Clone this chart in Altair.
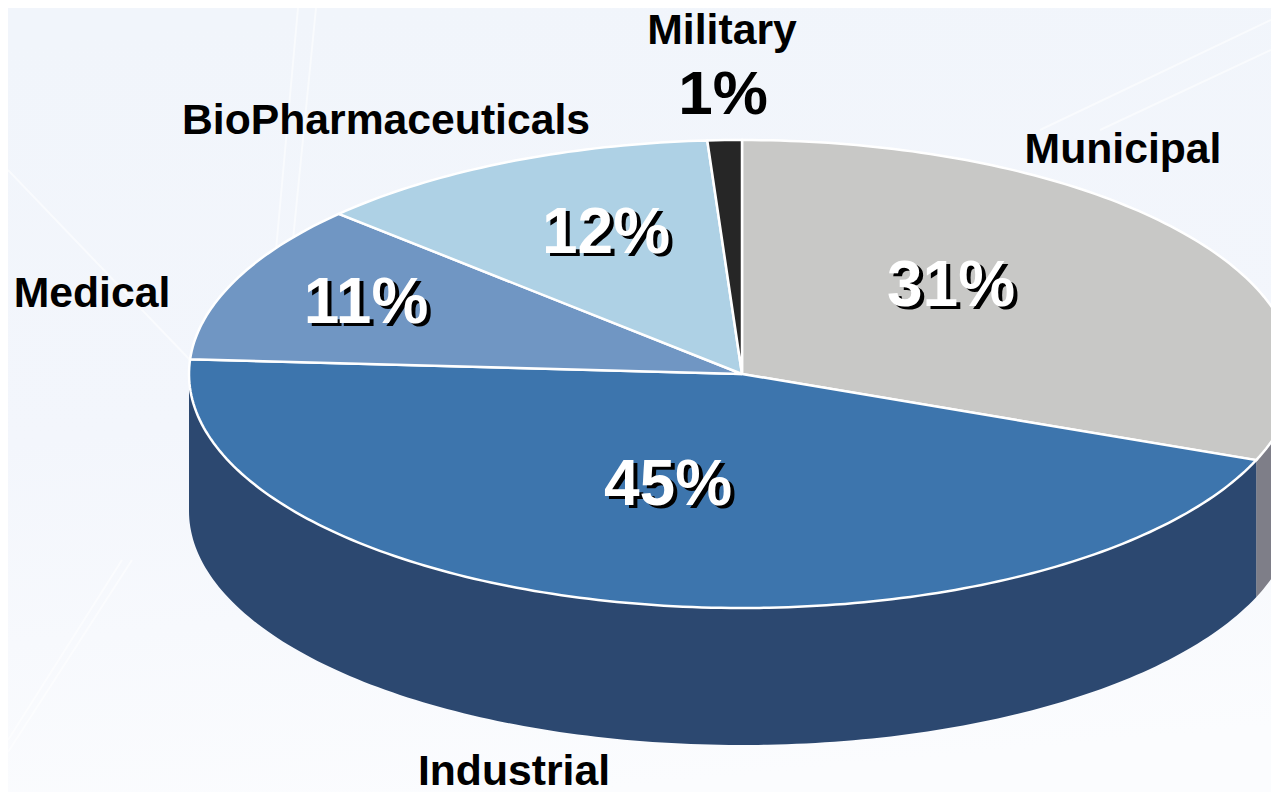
import altair as alt
import numpy as np
import pandas as pd

categories = ["Municipal", "Industrial", "Medical", "BioPharmaceuticals", "Military"]
shares = [31, 45, 11, 12, 1]
top_colors = ["#c8c8c6", "#3d75ad", "#7096c3", "#aed1e5", "#262626"]
side_colors = ["#7e7e88", "#2c4870", "#2c4870", "#2c4870", "#262626"]
name_labels = ["Military", "BioPharmaceuticals", "Municipal", "Medical", "Industrial"]
name_x = [722, 386, 1123, 92, 514]
name_y = [44, 134, 163, 307, 785]
pct_labels = ["31%", "45%", "11%", "12%"]
pct_x = [951, 668, 366, 606]
pct_y = [306, 505, 323, 253]

# faint decorative streaks of the slide background
streak_x = [8, 298, 316, 8, 8, 1040, 1100]
streak_x2 = [190, 276, 292, 122, 132, 1271, 1271]
streak_y = [170, 8, 8, 740, 752, 130, 130]
streak_y2 = [360, 250, 250, 560, 560, 20, 50]

# pie geometry in picture pixels
CX, CY, RX, RY, DEPTH = 742.0, 374.0, 553.0, 234.0, 137.0
W, H = 1263, 784
xs = alt.Scale(domain=[8, 1271], nice=False, zero=False)
ys = alt.Scale(domain=[792, 8], nice=False, zero=False)
X = lambda f="x": alt.X(f"{f}:Q", scale=xs, axis=None)
Y = lambda f="y": alt.Y(f"{f}:Q", scale=ys, axis=None)


def ell(t, dy=0.0):
    r = np.radians(t)
    return CX + RX * np.sin(r), CY - RY * np.cos(r) + dy


def arc(a, b):
    n = max(2, int(abs(b - a)) + 2)
    return np.linspace(a, b, n)


def poly_chart(pts, fill, stroke=None, sw=0):
    d = pd.DataFrame(pts, columns=["x", "y"]).assign(o=lambda q: np.arange(len(q)))
    kw = dict(fill=fill, clip=True, interpolate="linear")
    kw.update(stroke=stroke, strokeWidth=sw) if stroke else kw.update(strokeOpacity=0)
    return alt.Chart(d).mark_line(**kw).encode(x=X(), y=Y(), order="o:Q")


bg = alt.Chart(pd.DataFrame({"x": [8], "x2": [1271], "y": [8], "y2": [792]})).mark_rect(
    color=alt.Gradient(
        gradient="linear", x1=0.3, y1=0, x2=0.45, y2=1,
        stops=[alt.GradientStop(color="#f1f5fb", offset=0),
               alt.GradientStop(color="#f3f6fc", offset=0.5),
               alt.GradientStop(color="#fbfcfe", offset=1)],
    )
).encode(x=X(), x2="x2", y=Y(), y2="y2")

streaks = alt.Chart(pd.DataFrame({"x": streak_x, "x2": streak_x2, "y": streak_y, "y2": streak_y2})).mark_rule(
    color="#ffffff", strokeWidth=2, opacity=0.55
).encode(x=X(), x2="x2", y=Y(), y2="y2")

layers = [bg, streaks]

# side wall, only the part of the rim that faces the viewer
start = 0.0
edges = []
for s in shares:
    edges.append((start, start + s * 3.6))
    start += s * 3.6
for (a, b), col in zip(edges, side_colors):
    lo, hi = max(a, 90), min(b, 270)
    if hi <= lo:
        continue
    ts = arc(lo, hi)
    upper = [ell(t) for t in ts]
    lower = [ell(t, DEPTH) for t in ts[::-1]]
    layers.append(poly_chart(upper + lower, col))

# top face
for (a, b), col in zip(edges, top_colors):
    pts = [(CX, CY)] + [ell(t) for t in arc(a, b)] + [(CX, CY)]
    layers.append(poly_chart(pts, col, "#ffffff", 2.5))


def text_layer(labels, x, y, size, color, dx=0, dy=0, stroke=0.0):
    d = pd.DataFrame({"t": labels, "x": x, "y": y})
    kw = dict(stroke=color, strokeWidth=stroke) if stroke else {}
    return alt.Chart(d).mark_text(
        font="Liberation Sans", fontWeight="bold", fontSize=size, color=color,
        baseline="alphabetic", align="center", dx=dx, dy=dy, **kw,
    ).encode(x=X(), y=Y(), text="t:N")


layers.append(text_layer(name_labels, name_x, name_y, 42.7, "#000000"))
layers.append(text_layer(["1%"], [723], [114], 62, "#000000"))
layers.append(text_layer(pct_labels, pct_x, pct_y, 64, "#000000", dx=4, dy=3))
layers.append(text_layer(pct_labels, pct_x, pct_y, 64, "#ffffff"))

chart = alt.layer(*layers).properties(
    width=W, height=H, padding=0, background="#f2f6fc"
).configure_view(stroke=None).configure(autosize=alt.AutoSizeParams(type="none"))

chart.save("out.html", embed_options={"renderer": "svg", "actions": False})
